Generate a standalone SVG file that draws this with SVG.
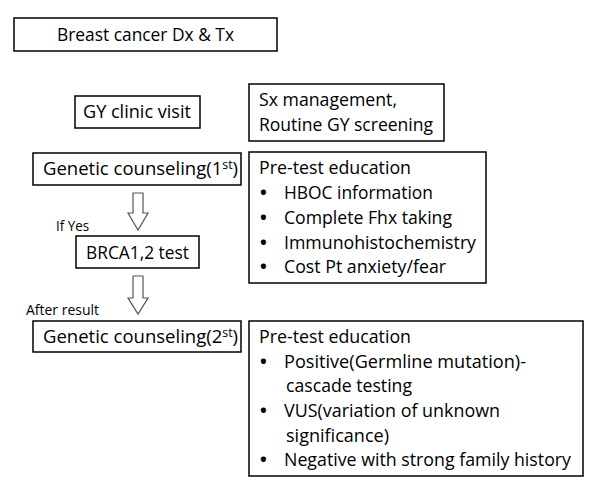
<svg xmlns="http://www.w3.org/2000/svg" width="602" height="491" viewBox="0 0 602 491">
<style>
.box{fill:#fff;stroke:#000;stroke-width:1.5}
text{font-family:"Open Sans","Noto Sans",sans-serif;font-size:18px;fill:#000}
.sm{font-size:14px}
.b{font-size:18px;font-weight:bold}
.arr{fill:#fff;stroke:#555;stroke-width:1.2}
</style>
<rect width="602" height="491" fill="#fff"/>
<g id="n-breast"><rect class="box" x="14" y="18" width="263" height="33"/><text x="57" y="41" textLength="177" lengthAdjust="spacingAndGlyphs">Breast cancer Dx &amp; Tx</text></g>
<g id="n-gy"><rect class="box" x="75" y="96" width="125" height="32"/><text x="83" y="118" textLength="108" lengthAdjust="spacingAndGlyphs">GY clinic visit</text></g>
<g id="n-sx"><rect class="box" x="249" y="84" width="195" height="57"/><text x="259" y="106" textLength="138" lengthAdjust="spacingAndGlyphs">Sx management,</text><text x="259" y="131" textLength="174" lengthAdjust="spacingAndGlyphs">Routine GY screening</text></g>
<g id="n-gc1"><rect class="box" x="33" y="153" width="208" height="32"/><text x="43" y="175" textLength="195" lengthAdjust="spacingAndGlyphs">Genetic counseling(1<tspan font-size="12" dy="-6">st</tspan><tspan dy="6">)</tspan></text></g>
<g id="n-pre1"><rect class="box" x="249" y="152" width="237" height="131"/>
<text x="259" y="174" textLength="152" lengthAdjust="spacingAndGlyphs">Pre-test education</text>
<text class="b" x="260" y="199">•</text><text x="284" y="199" textLength="149" lengthAdjust="spacingAndGlyphs">HBOC information</text>
<text class="b" x="260" y="224">•</text><text x="284" y="224" textLength="168" lengthAdjust="spacingAndGlyphs">Complete Fhx taking</text>
<text class="b" x="260" y="249">•</text><text x="284" y="249" textLength="192" lengthAdjust="spacingAndGlyphs">Immunohistochemistry</text>
<text class="b" x="260" y="273">•</text><text x="284" y="273" textLength="162" lengthAdjust="spacingAndGlyphs">Cost Pt anxiety/fear</text>
</g>
<g id="n-brca"><rect class="box" x="76" y="236" width="123" height="32"/><text x="86" y="259" textLength="103" lengthAdjust="spacingAndGlyphs">BRCA1,2 test</text></g>
<g id="n-gc2"><rect class="box" x="33" y="321" width="208" height="31"/><text x="43" y="343" textLength="195" lengthAdjust="spacingAndGlyphs">Genetic counseling(2<tspan font-size="12" dy="-6">st</tspan><tspan dy="6">)</tspan></text></g>
<g id="n-pre2"><rect class="box" x="249" y="321" width="334" height="155"/>
<text x="259" y="343" textLength="152" lengthAdjust="spacingAndGlyphs">Pre-test education</text>
<text class="b" x="260" y="368">•</text><text x="284" y="368" textLength="242" lengthAdjust="spacingAndGlyphs">Positive(Germline mutation)-</text>
<text x="286" y="392" textLength="126" lengthAdjust="spacingAndGlyphs">cascade testing</text>
<text class="b" x="260" y="417">•</text><text x="284" y="417" textLength="216" lengthAdjust="spacingAndGlyphs">VUS(variation of unknown</text>
<text x="286" y="442" textLength="103" lengthAdjust="spacingAndGlyphs">significance)</text>
<text class="b" x="260" y="466">•</text><text x="284" y="466" textLength="287" lengthAdjust="spacingAndGlyphs">Negative with strong family history</text>
</g>
<g id="connectors">
<path class="arr" d="M133,193 H143 V213 H148 L138,230 L128,213 H133 Z"/>
<path class="arr" d="M133,276 H143 V298 H148 L138,314 L128,298 H133 Z"/>
<text class="sm" x="56" y="231" textLength="33" lengthAdjust="spacingAndGlyphs">If Yes</text>
<text class="sm" x="26" y="315" textLength="73" lengthAdjust="spacingAndGlyphs">After result</text>
</g>
</svg>
